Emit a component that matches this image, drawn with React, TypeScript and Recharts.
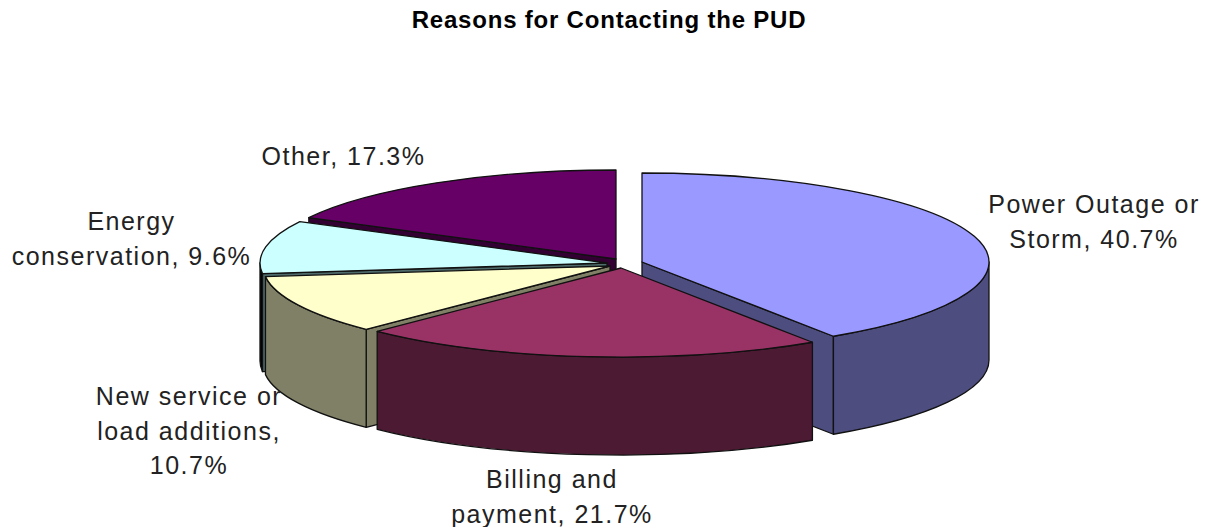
import React from "react";
import { PieChart, Pie } from "recharts";

const categories = ["Power Outage or Storm", "Billing and payment", "New service or load additions", "Energy conservation", "Other"];
const shares = [40.7, 21.7, 10.7, 9.6, 17.3];

const topColors = ["#9999FF", "#993366", "#FFFFCC", "#CCFFFF", "#660066"];
const wallColors = ["#4D4D80", "#4D1A33", "#808066", "#4F6A6A", "#330033"];
// the energy rim is only a sliver, its outlines close it up to black
const rimColors = ["#4D4D80", "#4D1A33", "#808066", "#000000", "#330033"];

// label line breaks as they sit around the pie
const labelLines = [
  ["Power Outage or", "Storm, "],
  ["Billing and", "payment, "],
  ["New service or", "load additions,", ""],
  ["Energy", "conservation, "],
  ["Other, "],
];
const labelAnchors = [
  [1094, 213],
  [552, 488],
  [189, 405],
  [131.5, 230],
  [343.5, 165],
];

// how far each slice is pulled out of the hub
const explode = [
  [26, -2],
  [5, 4],
  [-6, 2],
  [-9, -1],
  [0, -5],
];

const WIDTH = 1205;
const HEIGHT = 527;
const HUB_X = 616;
const HUB_Y = 264;
const RX = 347;
const SQUASH = 0.2565;
const DEPTH = 98;
const LINE = "#111";

const data = categories.map((name, i) => ({ name, value: shares[i], idx: i }));

// back to front, the walls overlap in this order
const wallOrder = [4, 3, 2, 0, 1];

type SliceProps = {
  cx: number;
  cy: number;
  outerRadius: number;
  startAngle: number;
  endAngle: number;
  payload: { idx: number };
};

const pt = (p: SliceProps, deg: number, drop = 0) => {
  const i = p.payload.idx;
  const a = (deg * Math.PI) / 180;
  return {
    x: p.cx + explode[i][0] + p.outerRadius * Math.cos(a),
    y: p.cy + explode[i][1] - p.outerRadius * SQUASH * Math.sin(a) + drop,
  };
};

const arcTo = (p: SliceProps, from: number, to: number, drop: number, sweep: number) => {
  const q = pt(p, to, drop);
  const large = Math.abs(to - from) > 180 ? 1 : 0;
  return `A ${p.outerRadius} ${p.outerRadius * SQUASH} 0 ${large} ${sweep} ${q.x} ${q.y}`;
};

const hub = (p: SliceProps, drop = 0) => {
  const i = p.payload.idx;
  return { x: p.cx + explode[i][0], y: p.cy + explode[i][1] + drop };
};

const cutFace = (p: SliceProps, deg: number) => {
  const a = hub(p);
  const b = pt(p, deg);
  const c = pt(p, deg, DEPTH);
  const d = hub(p, DEPTH);
  return `M ${a.x} ${a.y} L ${b.x} ${b.y} L ${c.x} ${c.y} L ${d.x} ${d.y} Z`;
};

const renderTop = (p: SliceProps) => {
  const i = p.payload.idx;
  const a = hub(p);
  const s = pt(p, p.startAngle);
  const d = `M ${a.x} ${a.y} L ${s.x} ${s.y} ${arcTo(p, p.startAngle, p.endAngle, 0, 1)} Z`;
  return <path d={d} fill={topColors[i]} stroke={LINE} strokeWidth={1.3} strokeLinejoin="round" />;
};

// side of one slice: the visible radial cuts, then the front part of the rim
const renderWall = (only: number) => (p: SliceProps) => {
  const i = p.payload.idx;
  if (i !== only) return <g />;
  const faces: string[] = [];
  // recharts angles run clockwise from 90 down to -270
  const facesFront = (deg: number, leading: boolean) => {
    const c = Math.cos((deg * Math.PI) / 180);
    return leading ? c < -0.001 : c > 0.001;
  };
  if (facesFront(p.startAngle, true)) faces.push(cutFace(p, p.startAngle));
  if (facesFront(p.endAngle, false)) faces.push(cutFace(p, p.endAngle));

  const rimFrom = Math.min(p.startAngle, 0);
  const rimTo = Math.max(p.endAngle, -180);
  let rim = "";
  if (rimFrom > rimTo) {
    const s = pt(p, rimFrom);
    const e = pt(p, rimTo, DEPTH);
    const sd = pt(p, rimFrom, DEPTH);
    rim =
      `M ${s.x} ${s.y} ${arcTo(p, rimFrom, rimTo, 0, 1)} ` +
      `L ${e.x} ${e.y} ${arcTo(p, rimTo, rimFrom, DEPTH, 0)} L ${sd.x} ${sd.y} Z`;
  }
  return (
    <g>
      {faces.map((f) => (
        <path key={f} d={f} fill={wallColors[i]} stroke={LINE} strokeWidth={1.3} strokeLinejoin="round" />
      ))}
      {rim && <path d={rim} fill={rimColors[i]} stroke={LINE} strokeWidth={1.3} strokeLinejoin="round" />}
    </g>
  );
};

const renderLabel = (p: { payload: { idx: number; value: number } }) => {
  const i = p.payload.idx;
  const lines = labelLines[i];
  const [x, y] = labelAnchors[i];
  const pct = `${p.payload.value.toFixed(1)}%`;
  return (
    <text x={x} y={y} textAnchor="middle" fontFamily="Liberation Sans" fontSize={25} fill="#222" letterSpacing={1.5}>
      {lines.map((l, n) => (
        <tspan key={n} x={x} dy={n === 0 ? 0 : 34.5}>
          {n === lines.length - 1 ? l + pct : l}
        </tspan>
      ))}
    </text>
  );
};

export default function App() {
  const pieProps = {
    data,
    dataKey: "value",
    nameKey: "name",
    cx: HUB_X,
    cy: HUB_Y,
    outerRadius: RX,
    startAngle: 90,
    endAngle: -270,
    paddingAngle: 0,
    stroke: "none",
    isAnimationActive: false,
    labelLine: false,
  };
  return (
    <div style={{ position: "absolute", left: 0, top: 0, background: "#fff" }}>
      <PieChart width={WIDTH} height={HEIGHT} margin={{ top: 0, right: 0, bottom: 0, left: 0 }}>
        <text x={609} y={28} textAnchor="middle" fontFamily="Liberation Sans" fontSize={24} fontWeight="bold" fill="#000" letterSpacing={0.8}>
          Reasons for Contacting the PUD
        </text>
        {wallOrder.map((i) => (
          <Pie key={i} {...pieProps} shape={renderWall(i) as never} />
        ))}
        <Pie {...pieProps} shape={renderTop as never} label={renderLabel as never} />
      </PieChart>
    </div>
  );
}
